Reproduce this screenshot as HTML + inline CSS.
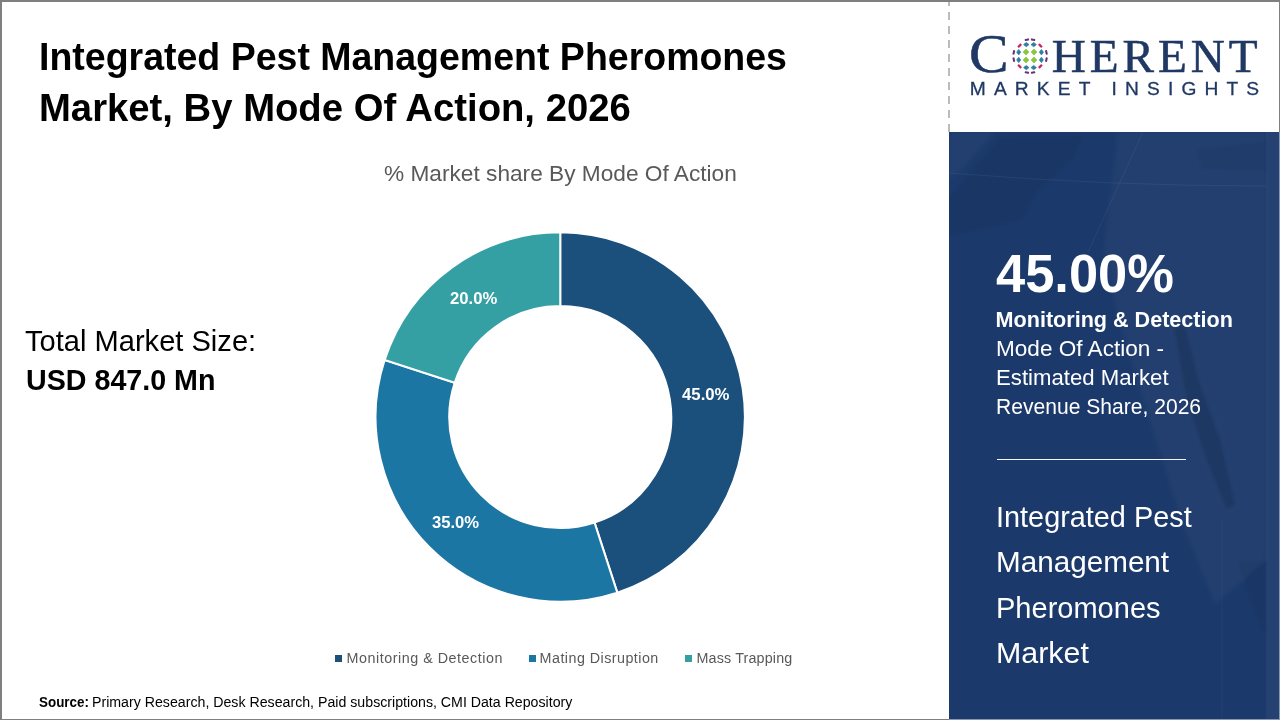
<!DOCTYPE html>
<html lang="en">
<head>
<meta charset="utf-8">
<title>Integrated Pest Management Pheromones Market, By Mode Of Action, 2026</title>
<style>
html,body{margin:0;padding:0;}
body{width:1280px;height:720px;overflow:hidden;background:#fff;position:relative;font-family:"Liberation Sans",sans-serif;}
.frame{position:absolute;left:0;top:0;width:1280px;height:720px;box-sizing:border-box;border-style:solid;border-color:#7f7f7f;border-width:2px 1px 1px 2px;pointer-events:none;z-index:5;}
.t{position:absolute;white-space:nowrap;transform-origin:0 0;line-height:normal;margin:0;padding:0;font-kerning:normal;}
.b{font-weight:bold;}
.serif{font-family:"Liberation Serif",serif;-webkit-text-stroke:0.55px #1f3864;}
#lm{-webkit-text-stroke:0.3px #1f3864;}
.panel{position:absolute;left:949px;top:132px;width:330px;height:587px;background:#1b3a6b;overflow:hidden;}
.panel .stripe{position:absolute;right:0;top:0;width:13px;height:100%;background:rgba(255,255,255,0.045);}
.rule{position:absolute;left:997px;top:459px;width:189px;height:1.4px;background:#f2f5fa;}
.dash{position:absolute;left:948px;top:0;width:2px;height:132px;opacity:.9;
  background:repeating-linear-gradient(to top,#b4b4b4 0,#b4b4b4 8px,transparent 8px,transparent 14px);}
.edge-r{position:absolute;left:1279px;top:132px;width:1px;height:588px;background:#8796b3;z-index:6;}
.edge-b{position:absolute;left:949px;top:719px;width:331px;height:1px;background:#8796b3;z-index:6;}
.sq{position:absolute;width:7px;height:7px;top:655px;}
</style>
</head>
<body>
<header class="slide-title">
<div class="t b" id="t1" style="left:39.17px;top:35.00px;font-size:39.03px;color:#000;transform:scaleX(0.9610);">Integrated Pest Management Pheromones</div>
<div class="t b" id="t2" style="left:39.08px;top:86.00px;font-size:39.03px;color:#000;transform:scaleX(0.9806);">Market, By Mode Of Action, 2026</div>
</header>
<main class="chart-area">
<svg class="donut" width="1280" height="720" viewBox="0 0 1280 720" style="position:absolute;left:0;top:0">
<path d="M560.25 232.35A184.65 184.65 0 0 1 617.31 592.61L594.55 522.57A111.0 111.0 0 0 0 560.25 306.00Z" fill="#1b4f7c" stroke="#fff" stroke-width="2" stroke-linejoin="miter"/>
<path d="M617.31 592.61A184.65 184.65 0 0 1 384.64 359.94L454.68 382.70A111.0 111.0 0 0 0 594.55 522.57Z" fill="#1c76a4" stroke="#fff" stroke-width="2" stroke-linejoin="miter"/>
<path d="M384.64 359.94A184.65 184.65 0 0 1 560.25 232.35L560.25 306.00A111.0 111.0 0 0 0 454.68 382.70Z" fill="#35a0a4" stroke="#fff" stroke-width="2" stroke-linejoin="miter"/>
</svg>
<div class="t" id="sub" style="left:384.37px;top:161.00px;font-size:21.58px;color:#595959;transform:scaleX(1.0507);">% Market share By Mode Of Action</div>
<div class="t" id="tm1" style="left:25.15px;top:325.00px;font-size:28.85px;color:#000;transform:scaleX(1.0083);">Total Market Size:</div>
<div class="t b" id="tm2" style="left:25.92px;top:364.00px;font-size:28.85px;color:#000;transform:scaleX(0.9932);">USD 847.0 Mn</div>
<div class="t b" id="d20" style="left:450.11px;top:288.00px;font-size:17.22px;color:#fff;transform:scaleX(0.9691);">20.0%</div>
<div class="t b" id="d45" style="left:681.73px;top:384.00px;font-size:17.22px;color:#fff;transform:scaleX(0.9736);">45.0%</div>
<div class="t b" id="d35" style="left:432.05px;top:512.00px;font-size:17.22px;color:#fff;transform:scaleX(0.9668);">35.0%</div>
<div class="legend">
<span class="sq" style="left:335px;background:#1b4f7c"></span>
<span class="sq" style="left:529px;background:#1c76a4"></span>
<span class="sq" style="left:685px;background:#35a0a4"></span>
<div class="t" id="lg1" style="left:346.50px;top:650.00px;font-size:14.32px;color:#595959;letter-spacing:0.533px;">Monitoring &amp; Detection</div>
<div class="t" id="lg2" style="left:539.60px;top:650.00px;font-size:14.32px;color:#595959;letter-spacing:0.458px;">Mating Disruption</div>
<div class="t" id="lg3" style="left:696.53px;top:650.00px;font-size:14.32px;color:#595959;letter-spacing:0.156px;">Mass Trapping</div>
</div>
</main>
<footer class="source">
<div class="t b" id="src1" style="left:38.61px;top:694.00px;font-size:14.32px;color:#000;transform:scaleX(0.9366);">Source:</div>
<div class="t" id="src2" style="left:91.82px;top:694.00px;font-size:14.32px;color:#000;transform:scaleX(0.9900);">Primary Research, Desk Research, Paid subscriptions, CMI Data Repository</div>
</footer>
<div class="dash"></div>
<div class="logo">
<svg class="globe" width="44" height="44" viewBox="1008.5 33.8 44 44" style="position:absolute;left:1008.1px;top:33.8px" aria-label="globe">
<path d="M1026.50 48.90L1029.40 51.80L1026.50 54.70L1023.60 51.80Z" fill="#8cc63f" stroke="#8cc63f" stroke-width="0.8" stroke-linejoin="round"/>
<path d="M1026.50 56.90L1029.40 59.80L1026.50 62.70L1023.60 59.80Z" fill="#8cc63f" stroke="#8cc63f" stroke-width="0.8" stroke-linejoin="round"/>
<path d="M1034.50 48.90L1037.40 51.80L1034.50 54.70L1031.60 51.80Z" fill="#8cc63f" stroke="#8cc63f" stroke-width="0.8" stroke-linejoin="round"/>
<path d="M1034.50 56.90L1037.40 59.80L1034.50 62.70L1031.60 59.80Z" fill="#8cc63f" stroke="#8cc63f" stroke-width="0.8" stroke-linejoin="round"/>
<path d="M1026.80 42.30L1029.50 44.40L1026.80 46.50L1024.10 44.40Z" fill="#2f7f9f" stroke="#2f7f9f" stroke-width="0.8" stroke-linejoin="round"/>
<path d="M1026.80 65.30L1029.50 67.40L1026.80 69.50L1024.10 67.40Z" fill="#2f7f9f" stroke="#2f7f9f" stroke-width="0.8" stroke-linejoin="round"/>
<path d="M1034.20 42.30L1036.90 44.40L1034.20 46.50L1031.50 44.40Z" fill="#2f7f9f" stroke="#2f7f9f" stroke-width="0.8" stroke-linejoin="round"/>
<path d="M1034.20 65.30L1036.90 67.40L1034.20 69.50L1031.50 67.40Z" fill="#2f7f9f" stroke="#2f7f9f" stroke-width="0.8" stroke-linejoin="round"/>
<path d="M1019.20 49.30L1021.20 52.00L1019.20 54.70L1017.20 52.00Z" fill="#2f7f9f" stroke="#2f7f9f" stroke-width="0.8" stroke-linejoin="round"/>
<path d="M1041.90 49.30L1043.90 52.00L1041.90 54.70L1039.90 52.00Z" fill="#2f7f9f" stroke="#2f7f9f" stroke-width="0.8" stroke-linejoin="round"/>
<path d="M1019.20 57.00L1021.20 59.70L1019.20 62.40L1017.20 59.70Z" fill="#2f7f9f" stroke="#2f7f9f" stroke-width="0.8" stroke-linejoin="round"/>
<path d="M1041.90 57.00L1043.90 59.70L1041.90 62.40L1039.90 59.70Z" fill="#2f7f9f" stroke="#2f7f9f" stroke-width="0.8" stroke-linejoin="round"/>
<rect x="-2.30" y="-1.15" width="4.6" height="2.3" rx="0.8" fill="#c9245f" transform="translate(1020.10 45.50) rotate(-45)"/>
<rect x="-2.30" y="-1.15" width="4.6" height="2.3" rx="0.8" fill="#c9245f" transform="translate(1020.10 66.10) rotate(45)"/>
<rect x="-2.30" y="-1.15" width="4.6" height="2.3" rx="0.8" fill="#c9245f" transform="translate(1040.90 45.50) rotate(45)"/>
<rect x="-2.30" y="-1.15" width="4.6" height="2.3" rx="0.8" fill="#c9245f" transform="translate(1040.90 66.10) rotate(-45)"/>
<rect x="-2.20" y="-1.05" width="4.4" height="2.1" rx="0.8" fill="#6b3277" transform="translate(1027.40 39.50) rotate(-12)"/>
<rect x="-2.20" y="-1.05" width="4.4" height="2.1" rx="0.8" fill="#6b3277" transform="translate(1027.40 72.30) rotate(12)"/>
<rect x="-2.20" y="-1.05" width="4.4" height="2.1" rx="0.8" fill="#6b3277" transform="translate(1033.60 39.50) rotate(12)"/>
<rect x="-2.20" y="-1.05" width="4.4" height="2.1" rx="0.8" fill="#6b3277" transform="translate(1033.60 72.30) rotate(-12)"/>
<rect x="-1.05" y="-2.30" width="2.1" height="4.6" rx="0.8" fill="#6b3277" transform="translate(1014.30 52.20) rotate(12)"/>
<rect x="-1.05" y="-2.30" width="2.1" height="4.6" rx="0.8" fill="#6b3277" transform="translate(1046.90 52.20) rotate(-12)"/>
<rect x="-1.05" y="-2.30" width="2.1" height="4.6" rx="0.8" fill="#6b3277" transform="translate(1014.30 59.40) rotate(-12)"/>
<rect x="-1.05" y="-2.30" width="2.1" height="4.6" rx="0.8" fill="#6b3277" transform="translate(1046.90 59.40) rotate(12)"/>
</svg>
<div class="t serif" id="lc" style="left:968.58px;top:22.00px;font-size:55.00px;color:#1f3864;transform:scaleX(1.0788);">C</div>
<div class="t serif" id="lh" style="left:1051.79px;top:29.00px;font-size:47.18px;color:#1f3864;letter-spacing:3.958px;">HERENT</div>
<div class="t" id="lm" style="left:969.77px;top:78.00px;font-size:19.19px;color:#1f3864;letter-spacing:8.129px;">MARKET INSIGHTS</div>
</div>
<aside class="side">
<div class="panel">
<svg class="map" width="330" height="587" viewBox="949 132 330 587" style="position:absolute;left:0;top:0" aria-hidden="true">
<defs><filter id="soft" x="-20%" y="-20%" width="140%" height="140%"><feGaussianBlur stdDeviation="2.2"/></filter></defs>
<rect x="949" y="132" width="330" height="587" fill="#1b396b"/>
<g filter="url(#soft)">
<path d="M949 132H994L965 166L949 180Z" fill="#fff" fill-opacity=".03"/>
<path d="M1001 137L1083 136L1073 158L1035 194L1022 220L949 236V198Z" fill="#000" fill-opacity=".06"/>
<path d="M1118 132H1266V560L1215 604L1182 522L1150 420L1122 330L1104 252Z" fill="#fff" fill-opacity=".03"/>
<path d="M1195 148L1266 140V172L1200 170Z" fill="#000" fill-opacity=".05"/>
<path d="M1172 325L1186 322L1200 380L1222 440L1237 505L1226 512L1205 460L1185 400Z" fill="#000" fill-opacity=".09"/>
<path d="M1235 560L1266 560V640Z" fill="#000" fill-opacity=".05"/>
</g>
<path d="M949 173Q1110 186 1266 186" fill="none" stroke="#fff" stroke-opacity=".06" stroke-width="1"/>
<path d="M1143 132L1088 252" fill="none" stroke="#fff" stroke-opacity=".06" stroke-width="1"/>
<path d="M1222 520V719" fill="none" stroke="#fff" stroke-opacity=".04" stroke-width="1"/>
</svg>

<div class="stripe"></div>
</div>
<section class="highlight">
<div class="t b" id="big" style="left:996.10px;top:243.00px;font-size:53.56px;color:#fff;transform:scaleX(0.9798);">45.00%</div>
<div class="t b" id="p1" style="left:995.55px;top:307.00px;font-size:21.58px;color:#fff;transform:scaleX(1.0000);">Monitoring &amp; Detection</div>
<div class="t" id="p2" style="left:995.64px;top:336.00px;font-size:21.58px;color:#fff;transform:scaleX(1.0459);">Mode Of Action -</div>
<div class="t" id="p3" style="left:995.67px;top:365.00px;font-size:21.58px;color:#fff;transform:scaleX(1.0278);">Estimated Market</div>
<div class="t" id="p4" style="left:995.76px;top:394.00px;font-size:21.58px;color:#fff;transform:scaleX(0.9769);">Revenue Share, 2026</div>
</section>
<div class="rule"></div>
<section class="market-name">
<div class="t" id="m1" style="left:996.02px;top:501.00px;font-size:28.85px;color:#fff;transform:scaleX(1.0000);">Integrated Pest</div>
<div class="t" id="m2" style="left:996.28px;top:546.00px;font-size:28.85px;color:#fff;transform:scaleX(1.0282);">Management</div>
<div class="t" id="m3" style="left:996.33px;top:592.00px;font-size:28.85px;color:#fff;transform:scaleX(1.0061);">Pheromones</div>
<div class="t" id="m4" style="left:996.22px;top:637.00px;font-size:28.85px;color:#fff;transform:scaleX(1.0539);">Market</div>
</section>
</aside>
<div class="frame"></div>
<div class="edge-r"></div><div class="edge-b"></div>
</body>
</html>
